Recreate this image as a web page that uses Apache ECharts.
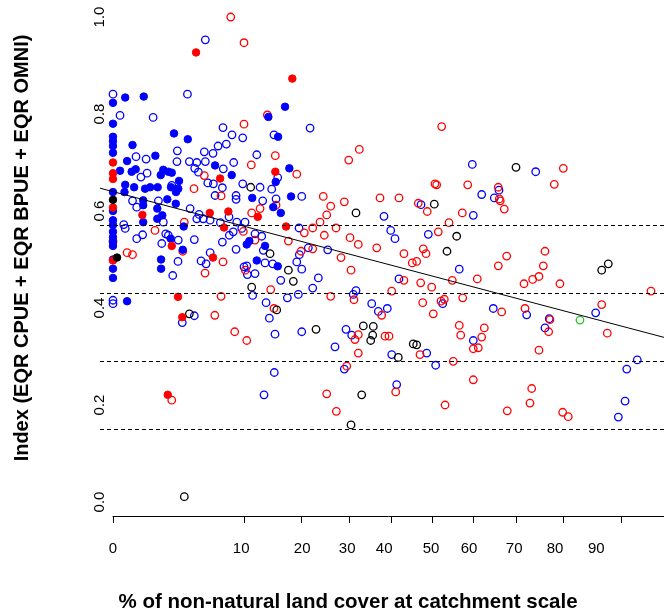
<!DOCTYPE html>
<html><head><meta charset="utf-8">
<script src="https://cdn.jsdelivr.net/npm/echarts@6/dist/echarts.min.js"></script>
<style>html,body{margin:0;padding:0;background:#fff}#c{width:664px;height:611px}</style>
</head><body><div id="c"></div>
<script>
// ---- data (x = % non-natural land cover, y = index) ----
const blueOpen = [[5.06,0.953],[0,0.841],[0.03,0.797],[0.97,0.793],[3.31,0.841],[7.13,0.772],[8.31,0.757],[9.82,0.751],[2.48,0.724],[6.52,0.734],[7.56,0.738],[5.92,0.719],[4.95,0.722],[0.32,0.712],[0.66,0.707],[2.45,0.702],[3.48,0.702],[4.18,0.700],[5.06,0.702],[8.54,0.700],[7.17,0.687],[3.98,0.688],[4.34,0.680],[0.70,0.678],[0.47,0.670],[5.33,0.658],[5.96,0.656],[7.05,0.648],[2.07,0.653],[6.16,0.632],[8.87,0.632],[8.87,0.624],[0.23,0.621],[0.34,0.608],[1.24,0.621],[3.55,0.605],[0.07,0.572],[0.09,0.564],[1.52,0.577],[4.41,0.593],[4.18,0.584],[4.84,0.584],[5.59,0.581],[6.80,0.576],[7.91,0.588],[8.97,0.577],[9.68,0.564],[0.53,0.551],[0.34,0.543],[1.67,0.553],[1.84,0.550],[2.55,0.540],[3.94,0.541],[1.43,0.533],[7.05,0.536],[7.95,0.550],[8.48,0.557],[8.87,0.521],[5.59,0.514],[4.61,0.497],[5.14,0.491],[2.53,0.496],[2.14,0.467],[10.01,0.485],[0,0.416],[0,0.409],[3.94,0.384],[2.87,0.370],[21.67,0.771],[14.85,0.757],[11.97,0.716],[15.51,0.669],[59.68,0.696],[74.25,0.681],[9.82,0.656],[12.50,0.649],[14.45,0.645],[12.93,0.621],[15.21,0.625],[20.01,0.630],[10.16,0.577],[19.48,0.565],[11.69,0.553],[12.77,0.548],[13.03,0.519],[21.32,0.524],[25.35,0.520],[19.54,0.510],[10.42,0.487],[13.32,0.493],[14.62,0.491],[19.04,0.495],[10.51,0.469],[11.69,0.471],[20.01,0.480],[16.05,0.457],[23.37,0.462],[11.32,0.426],[22.21,0.441],[31.61,0.436],[30.99,0.428],[19.35,0.428],[17.26,0.421],[13.49,0.411],[14.05,0.379],[35.25,0.409],[36.81,0.393],[20.01,0.351],[15.03,0.346],[29.35,0.356],[30.63,0.344],[26.92,0.320],[28.97,0.274],[14.90,0.267],[13.15,0.221],[66.01,0.643],[61.93,0.634],[64.92,0.627],[47.14,0.613],[59.92,0.591],[38.16,0.589],[39.77,0.560],[40.80,0.543],[48.93,0.552],[56.52,0.480],[41.77,0.460],[52.47,0.409],[64.68,0.399],[38.95,0.399],[59.92,0.333],[40.01,0.304],[48.54,0.307],[50.74,0.282],[41.21,0.242],[72.29,0.386],[85.90,0.390],[77.11,0.378],[76.22,0.359],[92.22,0.293],[90.78,0.274],[90.54,0.208],[89.55,0.175]];
const blueFilled = [[0,0.823],[0.09,0.834],[0.57,0.836],[0,0.780],[2.23,0.760],[3.34,0.748],[0,0.753],[0,0.744],[0,0.734],[0.23,0.736],[0,0.720],[1.08,0.714],[0.12,0.703],[6.16,0.694],[0.03,0.683],[0.21,0.681],[0.31,0.686],[1.52,0.685],[1.84,0.681],[2.07,0.679],[8.27,0.674],[1.37,0.674],[2.61,0.662],[0.09,0.654],[0.27,0.649],[0.08,0.639],[0.62,0.646],[0.83,0.649],[1.20,0.649],[2.02,0.649],[2.38,0.639],[2.55,0.646],[0,0.639],[0.55,0.622],[0.55,0.612],[1.77,0.624],[2.36,0.615],[1.18,0.605],[0.55,0.577],[0,0.581],[0,0.571],[1.18,0.584],[1.46,0.591],[2.99,0.568],[0,0.557],[0,0.546],[2.00,0.543],[0,0.536],[0,0.528],[2.91,0.520],[0,0.500],[1.39,0.500],[1.39,0.481],[0,0.481],[0,0.462],[0.12,0.414],[16.83,0.815],[13.88,0.794],[15.57,0.753],[17.63,0.688],[15.15,0.660],[11.26,0.627],[17.95,0.630],[14.72,0.608],[16.05,0.596],[10.42,0.531],[10.81,0.538],[13.32,0.528],[11.97,0.498],[15.51,0.486],[0,0.600]];
const redOpen = [[8.14,1.0],[10.01,0.947],[10.01,0.779],[4.95,0.673],[3.91,0.646],[6.89,0.631],[3.04,0.577],[1.06,0.560],[0,0.538],[2.91,0.517],[0.12,0.514],[0.23,0.510],[7.13,0.495],[5.03,0.472],[10.21,0.478],[6.89,0.424],[6.13,0.385],[8.68,0.351],[10.42,0.333],[13.71,0.798],[15.08,0.714],[11.11,0.695],[32.37,0.727],[29.96,0.705],[19.04,0.676],[52.22,0.774],[79.94,0.688],[24.40,0.630],[28.97,0.619],[37.21,0.627],[15.21,0.612],[12.50,0.605],[11.17,0.596],[25.13,0.592],[25.99,0.610],[23.72,0.577],[22.21,0.565],[20.52,0.555],[24.62,0.550],[27.14,0.565],[30.25,0.545],[32.14,0.531],[36.43,0.524],[17.45,0.538],[11.69,0.540],[9.91,0.558],[19.87,0.517],[22.21,0.522],[28.24,0.504],[30.48,0.478],[14.28,0.438],[31.15,0.417],[25.99,0.424],[14.85,0.399],[37.61,0.385],[32.14,0.345],[31.38,0.335],[38.40,0.342],[32.14,0.307],[29.51,0.280],[25.13,0.223],[27.21,0.187],[50.57,0.656],[50.99,0.654],[58.57,0.654],[65.85,0.649],[66.08,0.625],[66.30,0.621],[67.24,0.604],[41.77,0.627],[46.47,0.616],[48.68,0.599],[57.26,0.596],[54.01,0.576],[51.38,0.557],[47.70,0.522],[48.37,0.512],[42.97,0.512],[46.08,0.496],[45.00,0.493],[67.79,0.507],[65.85,0.487],[42.97,0.457],[47.06,0.452],[49.76,0.443],[54.82,0.457],[60.88,0.460],[40.01,0.435],[71.70,0.450],[47.56,0.411],[52.05,0.414],[52.86,0.418],[57.36,0.421],[66.64,0.392],[71.92,0.399],[50.15,0.388],[56.52,0.364],[62.55,0.359],[56.87,0.344],[61.93,0.340],[39.36,0.342],[59.92,0.316],[61.12,0.318],[46.89,0.304],[55.06,0.290],[59.92,0.252],[40.97,0.227],[53.05,0.200],[67.92,0.188],[78.13,0.655],[76.22,0.517],[75.87,0.487],[73.60,0.459],[74.95,0.465],[79.27,0.450],[93.93,0.435],[86.92,0.407],[77.25,0.376],[76.98,0.351],[87.83,0.348],[74.95,0.313],[73.39,0.234],[73.01,0.204],[79.82,0.185],[80.90,0.176],[2.07,0.210]];
const redFilled = [[4.11,0.927],[18.19,0.873],[0,0.700],[0,0.678],[0,0.666],[6.77,0.667],[0,0.607],[0.52,0.592],[5.55,0.596],[7.82,0.599],[7.26,0.566],[2.07,0.528],[5.92,0.504],[0,0.498],[2.53,0.423],[2.87,0.381],[15.08,0.681],[12.13,0.588],[17.02,0.568],[1.80,0.221]];
const blackOpen = [[69.91,0.690],[11.02,0.649],[31.61,0.596],[50.40,0.614],[55.89,0.548],[53.52,0.517],[14.16,0.512],[17.45,0.478],[18.38,0.455],[11.17,0.443],[15.33,0.396],[3.48,0.388],[22.89,0.356],[33.29,0.363],[35.62,0.362],[35.48,0.344],[35.01,0.333],[45.24,0.326],[46.08,0.324],[41.60,0.298],[32.92,0.221],[30.48,0.159],[87.99,0.491],[86.92,0.478],[3.04,0.011]];
const blackFilled = [[0,0.623],[0.01,0.504]];
const greenOpen = [[83.11,0.375]];

const xTickValues = [0,10,20,30,40,50,60,70,80,90];           // tick marks (percent)
const xTickLabels = ['0','10','20','30','40','50','60','70','80','90'];
const xLabelAt   = [0,9.6,20.1,29.6,38.2,49.6,58.9,69.5,78.3,86.0]; // where the labels sit in the reference (percent)
const yTickValues = [0,0.2,0.4,0.6,0.8,1.0];
const dashedLevels = [0.574,0.434,0.293,0.154];
const fitIntercept = 0.640;   // regression on arcsine-sqrt transformed x
const fitSlope = -0.222;

// ---- chart ----
const T = p => Math.asin(Math.sqrt(p/100));   // arcsine square-root transform
const tr = arr => arr.map(d => [T(d[0]), d[1]]);
const XMIN = -0.0319, XMAX = 1.3538, YMIN = -0.0289, YMAX = 1.0351;
const FONT = '"Liberation Sans", Arial, sans-serif';

const chart = echarts.init(document.getElementById('c'), null, {renderer:'canvas'});
const openStyle = c => ({color:'rgba(0,0,0,0)', borderColor:c, borderWidth:1.3, opacity:1});
const fillStyle = c => ({color:c, borderColor:c, borderWidth:1, opacity:1});
const sc = (name, data, style) => ({type:'scatter', name, data:tr(data), symbol:'circle', symbolSize:7.5,
  itemStyle:style, xAxisIndex:0, yAxisIndex:0, animation:false, silent:true, z:3});
const labelFor = v => {let best=0,bd=1e9;xLabelAt.forEach((p,i)=>{const d=Math.abs(T(p)-v);if(d<bd){bd=d;best=i;}});return xTickLabels[best];};
const G = {top:0, bottom:95, right:0, containLabel:false};

chart.setOption({
  animation:false,
  grid:[
    Object.assign({left:100}, G),
    Object.assign({left:113}, G),
    Object.assign({left:113}, G)
  ],
  xAxis:[
    {type:'value', gridIndex:0, min:XMIN, max:XMAX, show:false},
    {type:'value', gridIndex:1, min:0, max:XMAX, position:'bottom',
     axisLine:{show:true, onZero:false, lineStyle:{color:'#000', width:1}},
     axisTick:{show:true, length:7, customValues:xTickValues.map(T), lineStyle:{color:'#000'}},
     axisLabel:{show:false}, splitLine:{show:false}},
    {type:'value', gridIndex:2, min:0, max:XMAX, position:'bottom',
     axisLine:{show:false, onZero:false}, axisTick:{show:false}, splitLine:{show:false},
     axisLabel:{show:true, customValues:xLabelAt.map(T), margin:25, color:'#000', fontSize:15, fontFamily:FONT,
       formatter:labelFor}}
  ],
  yAxis:[
    {type:'value', gridIndex:0, min:YMIN, max:YMAX, show:false},
    {type:'value', gridIndex:1, min:YMIN, max:YMAX,
     axisLine:{show:false}, axisTick:{show:false}, splitLine:{show:false},
     axisLabel:{show:true, customValues:yTickValues, rotate:90, margin:6, color:'#000', fontSize:15, fontFamily:FONT,
       formatter:v=>v.toFixed(1)}},
    {type:'value', gridIndex:2, min:0, max:1, show:false}
  ],
  series:[
    {type:'line', xAxisIndex:0, yAxisIndex:0, data:[], silent:true,
     markLine:{silent:true, symbol:'none', label:{show:false}, animation:false,
       lineStyle:{color:'#000', type:[4,3], width:1},
       data:dashedLevels.map(v=>({yAxis:v}))}},
    {type:'line', xAxisIndex:0, yAxisIndex:0, symbol:'none', silent:true, z:4,
     lineStyle:{color:'#000', width:1},
     data:[[XMIN, fitIntercept+fitSlope*XMIN],[XMAX, fitIntercept+fitSlope*XMAX]]},
    sc('blueOpen', blueOpen, openStyle('#0000ff')),
    sc('redOpen', redOpen, openStyle('#ff0000')),
    sc('blackOpen', blackOpen, openStyle('#000000')),
    sc('greenOpen', greenOpen, openStyle('#1ec81e')),
    sc('blueFilled', blueFilled, fillStyle('#0000ff')),
    sc('redFilled', redFilled, fillStyle('#ff0000')),
    sc('blackFilled', blackFilled, fillStyle('#000000'))
  ],
  graphic:[
    {type:'text', silent:true, x:348, y:602,
     style:{text:'% of non-natural land cover at catchment scale', font:'bold 20.5px '+FONT, fill:'#000', align:'center', verticalAlign:'middle'}},
    {type:'text', silent:true, x:22, y:248, rotation:Math.PI/2,
     style:{text:'Index (EQR CPUE + EQR BPUE + EQR OMNI)', font:'bold 20px '+FONT, fill:'#000', align:'center', verticalAlign:'middle'}}
  ]
});
</script></body></html>
